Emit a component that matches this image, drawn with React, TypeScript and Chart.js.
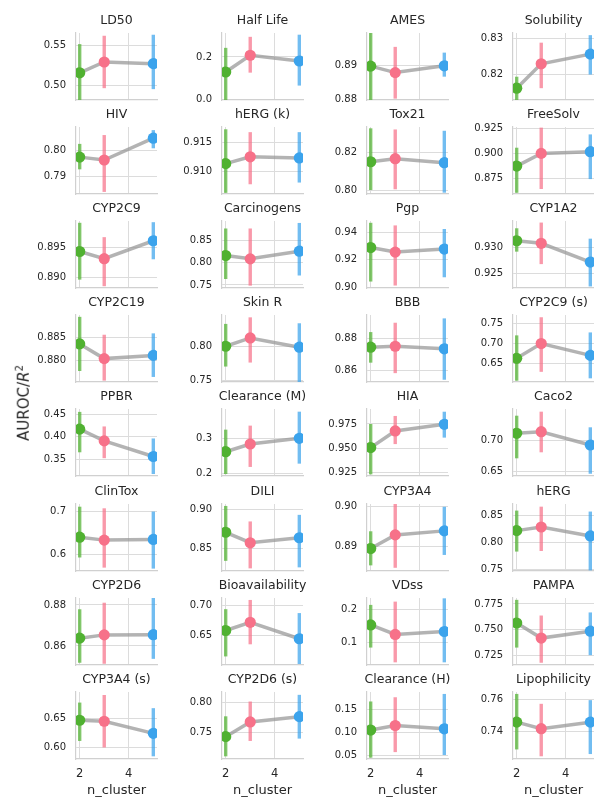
import React, { useEffect, useRef } from "react";
import { Chart, registerables } from "chart.js";
Chart.register(...registerables);

const TASKS = [
  "LD50", "Half Life", "AMES", "Solubility",
  "HIV", "hERG (k)", "Tox21", "FreeSolv",
  "CYP2C9", "Carcinogens", "Pgp", "CYP1A2",
  "CYP2C19", "Skin R", "BBB", "CYP2C9 (s)",
  "PPBR", "Clearance (M)", "HIA", "Caco2",
  "ClinTox", "DILI", "CYP3A4", "hERG",
  "CYP2D6", "Bioavailability", "VDss", "PAMPA",
  "CYP3A4 (s)", "CYP2D6 (s)", "Clearance (H)", "Lipophilicity",
];

const N_CLUSTER = [2, 3, 5];
const X_TICKS = [2, 4];
const X_MIN = 1.85;
const X_MAX = 5.15;

const MEAN_N2 = [
  0.5155, 0.129, 0.8899, 0.8162,
  0.7975, 0.9113, 0.815, 0.8875,
  0.8943, 0.8164, 0.9289, 0.9313,
  0.8836, 0.8, 0.8743, 0.6625,
  0.4169, 0.2614, 0.9506, 0.7119,
  0.64, 0.8711, 0.8894, 0.8222,
  0.8638, 0.6583, 0.154, 0.7564,
  0.6476, 0.7423, 0.1043, 0.7456,
];
const LOW_N2 = [
  0.479, -0.005, 0.8795, 0.8128,
  0.7928, 0.9062, 0.8, 0.8612,
  0.8896, 0.7635, 0.9042, 0.9292,
  0.8777, 0.7705, 0.8647, 0.6058,
  0.3662, 0.197, 0.9229, 0.6716,
  0.5924, 0.8342, 0.8852, 0.7828,
  0.8518, 0.6145, 0.085, 0.7324,
  0.6114, 0.709, 0.0443, 0.7285,
];
const HIGH_N2 = [
  0.5519, 0.243, 0.9005, 0.8194,
  0.8026, 0.9173, 0.8327, 0.9056,
  0.8991, 0.8775, 0.9469, 0.9337,
  0.8895, 0.8324, 0.8837, 0.7208,
  0.4547, 0.325, 0.975, 0.7403,
  0.7115, 0.9051, 0.8937, 0.8598,
  0.8779, 0.6944, 0.215, 0.779,
  0.6786, 0.7767, 0.1665, 0.7633,
];

const MEAN_N3 = [
  0.5292, 0.208, 0.888, 0.823,
  0.7964, 0.9125, 0.8166, 0.9,
  0.8931, 0.809, 0.9256, 0.9308,
  0.8804, 0.812, 0.8749, 0.7,
  0.3912, 0.2836, 0.9678, 0.7145,
  0.6331, 0.8576, 0.8928, 0.829,
  0.8654, 0.6722, 0.125, 0.7417,
  0.6459, 0.7672, 0.1143, 0.7415,
];
const LOW_N3 = [
  0.496, 0.126, 0.8803, 0.8162,
  0.7841, 0.9077, 0.8004, 0.8649,
  0.8885, 0.7485, 0.9013, 0.9268,
  0.8756, 0.7763, 0.8582, 0.6283,
  0.3533, 0.2175, 0.9542, 0.6813,
  0.5686, 0.8245, 0.8846, 0.7839,
  0.8513, 0.635, 0.04, 0.7176,
  0.6, 0.735, 0.0564, 0.7242,
];
const HIGH_N3 = [
  0.5625, 0.295, 0.8956, 0.8289,
  0.806, 0.9168, 0.8321, 0.9254,
  0.8967, 0.8775, 0.945, 0.9348,
  0.8856, 0.8419, 0.8895, 0.7668,
  0.4228, 0.3366, 0.9833, 0.7468,
  0.7077, 0.8851, 0.9008, 0.8672,
  0.8811, 0.71, 0.225, 0.7637,
  0.6919, 0.8017, 0.1757, 0.7571,
];

const MEAN_N5 = [
  0.5271, 0.181, 0.89, 0.8257,
  0.8048, 0.9123, 0.8145, 0.9017,
  0.8961, 0.8263, 0.9278, 0.9272,
  0.8811, 0.7986, 0.8733, 0.67,
  0.357, 0.3, 0.9747, 0.6931,
  0.6347, 0.864, 0.8938, 0.8122,
  0.8655, 0.6444, 0.134, 0.7484,
  0.6247, 0.7761, 0.1071, 0.7456,
];
const LOW_N5 = [
  0.4948, 0.065, 0.8868, 0.82,
  0.8009, 0.908, 0.7986, 0.8747,
  0.893, 0.7714, 0.9073, 0.9225,
  0.8764, 0.7475, 0.8541, 0.6118,
  0.3186, 0.227, 0.9609, 0.6467,
  0.5663, 0.8258, 0.8878, 0.7475,
  0.8537, 0.6017, 0.04, 0.725,
  0.5845, 0.739, 0.05, 0.7256,
];
const HIGH_N5 = [
  0.5638, 0.305, 0.8939, 0.831,
  0.8079, 0.9168, 0.8314, 0.9187,
  0.8992, 0.89, 0.9424, 0.9317,
  0.8859, 0.8333, 0.8922, 0.7283,
  0.3965, 0.3768, 0.9877, 0.7216,
  0.7, 0.8936, 0.8998, 0.858,
  0.8845, 0.6878, 0.235, 0.7667,
  0.6688, 0.813, 0.1829, 0.7594,
];

const Y_MIN = [
  0.481, -0.003, 0.8799, 0.8129,
  0.7833, 0.906, 0.7979, 0.86,
  0.8882, 0.7432, 0.8995, 0.9222,
  0.8753, 0.7481, 0.8527, 0.6025,
  0.3143, 0.1914, 0.9212, 0.6431,
  0.5607, 0.8211, 0.8838, 0.7463,
  0.8507, 0.6, 0.0319, 0.7154,
  0.5798, 0.7045, 0.0414, 0.7225,
];
const Y_MAX = [
  0.566, 0.313, 0.8997, 0.8316,
  0.8091, 0.9177, 0.8334, 0.926,
  0.8994, 0.8944, 0.9482, 0.9351,
  0.8899, 0.8453, 0.8943, 0.7725,
  0.461, 0.3845, 0.9905, 0.7511,
  0.7178, 0.9076, 0.9005, 0.8722,
  0.8834, 0.7133, 0.236, 0.7808,
  0.6971, 0.8178, 0.1871, 0.7645,
];
const Y_TICKS = [
  [0.5, 0.55], [0.0, 0.2], [0.88, 0.89], [0.82, 0.83],
  [0.79, 0.8], [0.91, 0.915], [0.8, 0.82], [0.875, 0.9, 0.925],
  [0.89, 0.895], [0.75, 0.8, 0.85], [0.9, 0.92, 0.94], [0.925, 0.93],
  [0.88, 0.885], [0.75, 0.8], [0.86, 0.88], [0.65, 0.7, 0.75],
  [0.35, 0.4, 0.45], [0.2, 0.3], [0.925, 0.95, 0.975], [0.65, 0.7],
  [0.6, 0.7], [0.85, 0.9], [0.89, 0.9], [0.75, 0.8, 0.85],
  [0.86, 0.88], [0.65, 0.7], [0.1, 0.2], [0.725, 0.75, 0.775],
  [0.6, 0.65], [0.75, 0.8], [0.05, 0.1, 0.15], [0.74, 0.76],
];
const Y_DECIMALS = [
  2, 1, 2, 2,
  2, 3, 2, 3,
  3, 2, 2, 3,
  3, 2, 2, 2,
  2, 1, 3, 2,
  1, 2, 2, 2,
  2, 2, 1, 3,
  2, 2, 2, 2,
];

const MARKER_COLORS = ["#50b131", "#f77189", "#3ba3ec"];
const BAR_COLORS = ["rgba(80,177,49,0.72)", "rgba(247,113,137,0.72)", "rgba(59,163,236,0.72)"];

const FONT = '"DejaVu Sans", sans-serif';
const AX_LEFT0 = 76;
const COL_STEP = 145.6;
const AX_TOP0 = 33;
const ROW_STEP = 94.1;
const AX_W = 81;
const AX_H = 67;
const PAD_L = 70;
const PAD_T = 28;
const PAD_R = 30;

function geom(i: number) {
  const r = Math.floor(i / 4);
  const c = i % 4;
  const bottom = r === 7;
  const xh = bottom ? 50 : 10;
  const left = Math.round(AX_LEFT0 + c * COL_STEP) - PAD_L;
  const top = Math.round(AX_TOP0 + r * ROW_STEP) - PAD_T;
  return { r, c, bottom, xh, left, top, width: PAD_L + AX_W + PAD_R, height: PAD_T + AX_H + xh };
}

export default function App() {
  const refs = useRef<(HTMLCanvasElement | null)[]>([]);

  useEffect(() => {
    const charts: Chart[] = [];
    TASKS.forEach((title, i) => {
      const canvas = refs.current[i];
      if (!canvas) return;
      const g = geom(i);
      const means = [MEAN_N2[i], MEAN_N3[i], MEAN_N5[i]];
      const lows = [LOW_N2[i], LOW_N3[i], LOW_N5[i]];
      const highs = [HIGH_N2[i], HIGH_N3[i], HIGH_N5[i]];
      const dec = Y_DECIMALS[i];
      const yt = Y_TICKS[i];

      const textPlugin = {
        id: "panelText" + i,
        afterDraw(chart: any) {
          const { ctx, chartArea } = chart;
          const cx = (chartArea.left + chartArea.right) / 2;
          ctx.save();
          ctx.fillStyle = "#262626";
          ctx.textAlign = "center";
          ctx.textBaseline = "middle";
          ctx.font = "12.5px " + FONT;
          ctx.fillText(title, cx, chartArea.top - 12.5);
          if (g.bottom) {
            ctx.font = "13px " + FONT;
            ctx.fillText("n_cluster", cx, chartArea.bottom + 32);
          }
          ctx.restore();
        },
      };

      const datasets: any[] = [
        {
          data: N_CLUSTER.map((x, k) => ({ x, y: means[k] })),
          borderColor: "rgba(150,150,150,0.72)",
          borderWidth: 3.5,
          pointRadius: 0,
          order: 3,
          clip: 0,
        },
        ...N_CLUSTER.map((x, k) => ({
          data: [
            { x, y: lows[k] },
            { x, y: highs[k] },
          ],
          borderColor: BAR_COLORS[k],
          borderWidth: 3.4,
          borderCapStyle: "butt",
          pointRadius: 0,
          order: 2,
          clip: 0,
        })),
        {
          data: N_CLUSTER.map((x, k) => ({ x, y: means[k] })),
          showLine: false,
          pointRadius: 5.6,
          pointBackgroundColor: MARKER_COLORS,
          pointBorderWidth: 0,
          order: 1,
          clip: 0,
        },
      ];

      const chart = new Chart(canvas, {
        type: "line",
        data: { datasets },
        options: {
          responsive: false,
          animation: false,
          events: [],
          layout: { padding: { left: 0, top: PAD_T, right: PAD_R, bottom: 0 } },
          plugins: { legend: { display: false }, tooltip: { enabled: false }, title: { display: false } },
          scales: {
            x: {
              type: "linear",
              min: X_MIN,
              max: X_MAX,
              afterBuildTicks: (s: any) => {
                s.ticks = X_TICKS.map((v) => ({ value: v }));
              },
              afterFit: (s: any) => {
                s.height = g.xh;
                s.paddingLeft = 0;
                s.paddingRight = 0;
              },
              grid: { color: "#dcdcdc", lineWidth: 1, drawTicks: false },
              border: { display: true, color: "#d0d0d0", width: 1.2 },
              ticks: {
                display: g.bottom,
                padding: 8,
                color: "#262626",
                font: { family: FONT, size: 11.5 },
                callback: (v: any) => String(v),
              },
            },
            y: {
              type: "linear",
              min: Y_MIN[i],
              max: Y_MAX[i],
              afterBuildTicks: (s: any) => {
                s.ticks = yt.map((v) => ({ value: v }));
              },
              afterFit: (s: any) => {
                s.width = PAD_L;
                s.paddingTop = 0;
                s.paddingBottom = 0;
              },
              grid: { color: "#dcdcdc", lineWidth: 1, drawTicks: false },
              border: { display: true, color: "#d0d0d0", width: 1.2 },
              ticks: {
                padding: 10,
                color: "#262626",
                font: { family: FONT, size: 10 },
                callback: (v: any) => Number(v).toFixed(dec),
              },
            },
          },
        },
        plugins: [textPlugin],
      } as any);
      charts.push(chart);
    });
    return () => charts.forEach((c) => c.destroy());
  }, []);

  return (
    <div
      style={{
        position: "absolute",
        left: 0,
        top: 0,
        width: 594,
        height: 799,
        overflow: "hidden",
        background: "#ffffff",
      }}
    >
      {TASKS.map((t, i) => {
        const g = geom(i);
        return (
          <canvas
            key={t}
            ref={(el) => {
              refs.current[i] = el;
            }}
            width={g.width}
            height={g.height}
            style={{ position: "absolute", left: g.left, top: g.top, width: g.width, height: g.height }}
          />
        );
      })}
      <div
        style={{
          position: "absolute",
          left: 23,
          top: 403,
          transform: "translate(-50%, -50%) rotate(-90deg)",
          whiteSpace: "nowrap",
          fontFamily: FONT,
          fontSize: 15,
          color: "#262626",
          lineHeight: 1,
        }}
      >
        AUROC/<i>R</i>
        <sup style={{ fontSize: 10, verticalAlign: "0.55em" }}>2</sup>
      </div>
    </div>
  );
}
